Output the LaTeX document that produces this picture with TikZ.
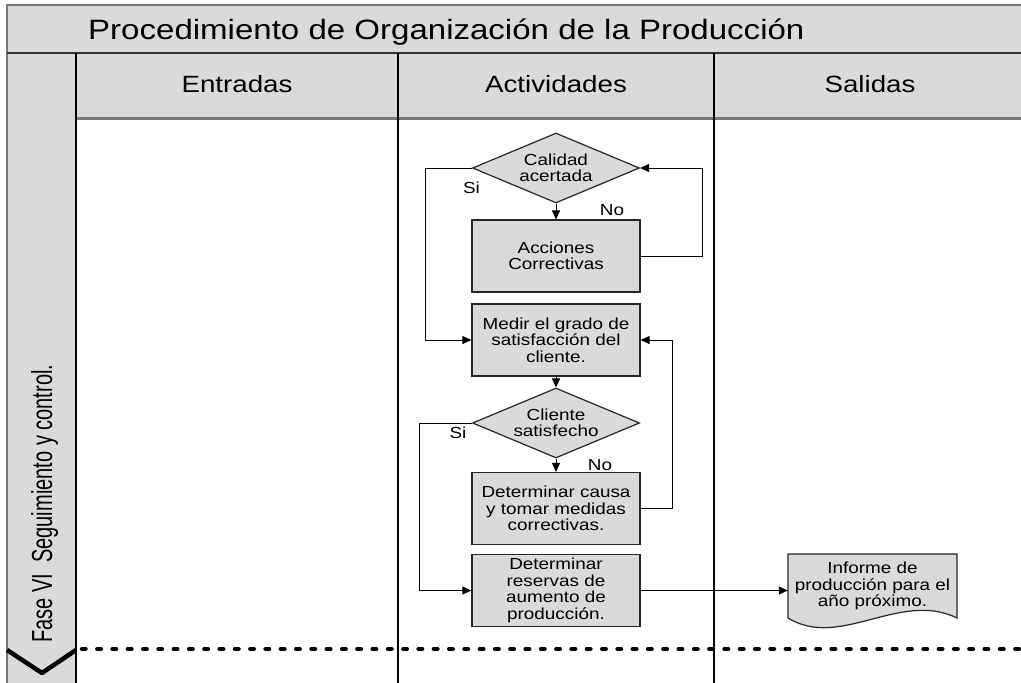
\documentclass[tikz,border=0pt]{standalone}
\usepackage{fontspec}
\setmainfont{Liberation Sans}[FakeStretch=1.18]
\newfontfamily\narrowsf{Liberation Sans}[FakeStretch=0.69]
\usetikzlibrary{arrows.meta, shapes.geometric}
\definecolor{lanegray}{RGB}{217,218,220}
\definecolor{rulegray}{RGB}{120,120,120}
\tikzset{
  flowtxt/.style={font=\fontsize{16}{16.5}\selectfont},
  proc/.style={flowtxt, rectangle, draw=black!85, fill=lanegray, line width=1.2pt,
    minimum width=168, minimum height=72, inner sep=0pt, align=center},
  decision/.style={diamond, draw=black!85, fill=lanegray, line width=1.2pt,
    minimum width=167, minimum height=70, inner sep=0pt},
  docnode/.style={flowtxt, minimum width=169, minimum height=64, inner sep=0pt, align=center},
  docshape/.style={draw=black!85, fill=lanegray, line width=1.2pt},
  flow/.style={line width=1pt, -{Triangle[length=9pt,width=8pt]}},
  lbl/.style={flowtxt, inner sep=0pt},
  colhead/.style={font=\fontsize{23.5}{26}\selectfont, inner sep=0pt, anchor=base}
}
\begin{document}
\begin{tikzpicture}[x=1pt,y=-1pt]
  \useasboundingbox[fill=white] (0,0) rectangle (1021,683);
  \fill[lanegray] (7,5) rectangle (1021,118);
  \fill[lanegray] (7,118) rectangle (76,683);
  \draw[rulegray, line width=2pt] (1021,5) -- (7,5) -- (7,683);
  \draw[black!80, line width=2.5pt] (7,53) -- (1021,53);
  \draw[rulegray, line width=3pt] (76,118) -- (1021,118);
  \foreach \x in {76,398,714}
      \draw[line width=1.3pt] (\x,53) -- (\x,683);
  \node[font=\fontsize{28}{30}\selectfont, inner sep=0pt, anchor=base west] (ttl) at (88,39)
      {Procedimiento de Organización de la Producción};
  \foreach \x/\t in {237/Entradas,556/Actividades,870/Salidas}
      \node[colhead] (h\t) at (\x,92.3) {\t};
  \node[font=\narrowsf\fontsize{29}{30}\selectfont, inner sep=0pt, rotate=90, anchor=base west] (fase)
      at (52,643) {Fase VI\ \ Seguimiento y control.};
  \draw[line width=4.5pt, line join=round] (7,650) -- (42,673) -- (76,650);
  \draw[line width=4.5pt, line cap=round, dash pattern=on 3.5pt off 11.8pt] (82,649) -- (1021,649);

  \node[decision, label={[flowtxt, align=center]center:{Calidad\\acertada}}] (cal) at (556,168) {};
  \node[proc] (acc) at (556,256) {Acciones\\Correctivas};
  \node[proc] (med) at (556,340) {Medir el grado de\\satisfacción del\\cliente.};
  \node[decision, label={[flowtxt, align=center]center:{Cliente\\satisfecho}}] (cli) at (556,423) {};
  \node[proc] (cau) at (556,508.5) {Determinar causa\\y tomar medidas\\correctivas.};
  \node[proc] (res) at (556,590.5) {Determinar\\reservas de\\aumento de\\producción.};
  \coordinate (infc) at (872.5,586);
  \draw[docshape] (infc) ++(-84.5,-32) -- ++(169,0) -- ++(0,64)
      .. controls +(-57,-28) and +(52,32) .. ++(-169,0) -- cycle;
  \node[docnode] (inf) at (infc) {Informe de\\producción para el\\año próximo.};

  \draw[flow] (cal.south) -- (acc.north);
  \draw[flow] (acc.east) -- ++(62,0) |- (cal.east);
  \draw[flow] (cal.west) -- ++(-46,0) |- (med.west);
  \draw[flow] (med.south) -- (cli.north);
  \draw[flow] (cli.south) -- (cau.north);
  \draw[flow] (cau.east) -- ++(32,0) |- (med.east);
  \draw[flow] (cli.west) -- ++(-52,0) |- (res.west);
  \draw[flow] (res.east) -- (res.east -| inf.west);
  \node[lbl] (si1) at (471.5,188) {Si};
  \node[lbl] (no1) at (612,210) {No};
  \node[lbl] (si2) at (458,433) {Si};
  \node[lbl] (no2) at (600,465) {No};
\end{tikzpicture}
\end{document}
